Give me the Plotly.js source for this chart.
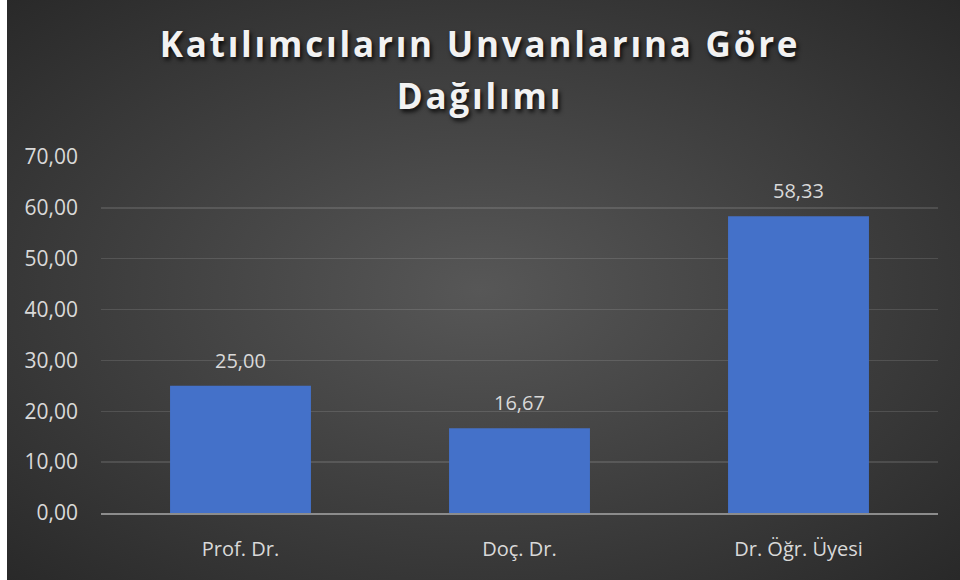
<!DOCTYPE html>
<html>
<head>
<meta charset="utf-8">
<script src="https://cdn.plot.ly/plotly-3.0.1.min.js"></script>
<style>
  html, body { margin: 0; padding: 0; background: #ffffff; }
  #chart {
    width: 960px; height: 580px;
    background:
      linear-gradient(to right, #ffffff 0px, #ffffff 7px, rgba(0,0,0,0) 7px),
      radial-gradient(ellipse 75% 75% at 50% 50%, #575757 0%, #3c3c3c 55%, #262626 100%);
  }
  #chart .gtitle { letter-spacing: 2.8px; }
</style>
</head>
<body>
<div id="chart"></div>
<script>
const categories = ["Prof. Dr.", "Doç. Dr.", "Dr. Öğr. Üyesi"];
const values = [25.00, 16.67, 58.33];
const yTickValues = [0, 10, 20, 30, 40, 50, 60, 70];
const titleLines = ["Katılımcıların Unvanlarına Göre", "Dağılımı"];

const fmt = function (v) { return v.toFixed(2).replace(".", ","); };

const trace = {
  type: "bar",
  x: categories,
  y: values,
  marker: { color: "#4471c9", line: { width: 0 } },
  hoverinfo: "none"
};

const labelAnnotations = categories.map(function (c, i) {
  return {
    x: c, y: values[i], xref: "x", yref: "y",
    text: fmt(values[i]),
    showarrow: false, yanchor: "bottom", yshift: 10,
    font: { family: "Open Sans, sans-serif", size: 20, color: "#d9d9d9" }
  };
});

const layout = {
  width: 960, height: 580,
  paper_bgcolor: "rgba(0,0,0,0)",
  plot_bgcolor: "rgba(0,0,0,0)",
  separators: ",.",
  margin: { l: 101, r: 22, t: 157, b: 67 },
  bargap: 0.495,
  showlegend: false,
  annotations: labelAnnotations,
  title: {
    text: titleLines.map(function (s) { return '<span style="font-size:35px">' + s + '</span>'; }).join("<br>"),
    x: 0.5, xanchor: "center",
    y: 1 - 57 / 580, yanchor: "middle", yref: "container",
    font: { family: "Open Sans, sans-serif", size: 40, weight: 700, color: "#f2f2f2",
            shadow: "2px 3px 4px rgba(0,0,0,0.8)" }
  },
  xaxis: {
    type: "category",
    showgrid: false,
    showline: true, linecolor: "#8c8c8c", linewidth: 2,
    ticks: "", ticklabelstandoff: 17,
    tickfont: { family: "Open Sans, sans-serif", size: 20, color: "#d9d9d9" },
    fixedrange: true
  },
  yaxis: {
    range: [0, 70],
    tickvals: yTickValues,
    tickformat: ".2f",
    showgrid: true, gridcolor: "rgba(255,255,255,0.12)", gridwidth: 1.5,
    zeroline: false, showline: false,
    ticks: "", ticklabelstandoff: 22,
    tickfont: { family: "Open Sans, sans-serif", size: 21, color: "#d9d9d9" },
    fixedrange: true
  }
};

Plotly.newPlot("chart", [trace], layout, { displayModeBar: false, staticPlot: true });
</script>
</body>
</html>
